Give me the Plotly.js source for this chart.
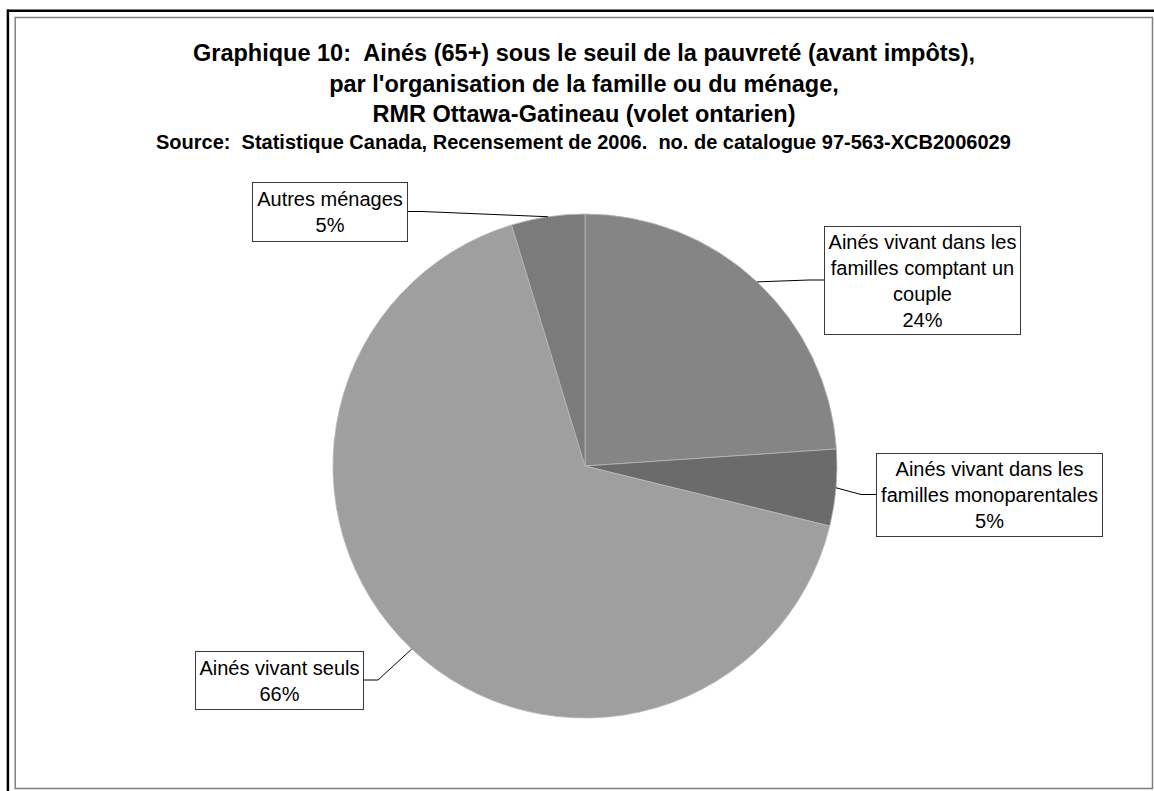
<!DOCTYPE html>
<html>
<head>
<meta charset="utf-8">
<script src="https://cdn.plot.ly/plotly-3.0.1.min.js"></script>
<style>html,body{margin:0;padding:0;background:#fff;}#chart{width:1154px;height:791px;}</style>
</head>
<body>
<div id="chart"></div>
<script>
// ---- data ----
const categories = [
  "Ainés vivant dans les familles comptant un couple",
  "Ainés vivant dans les familles monoparentales",
  "Ainés vivant seuls",
  "Autres ménages"
];
const labelLines = [
  "Ainés vivant dans les<br>familles comptant un<br>couple",
  "Ainés vivant dans les<br>familles monoparentales",
  "Ainés vivant seuls",
  "Autres ménages"
];
const shares = [23.9, 4.9, 66.4, 4.7];
const titleLines = [
  "Graphique 10:  Ainés (65+) sous le seuil de la pauvreté (avant impôts),",
  "par l'organisation de la famille ou du ménage,",
  "RMR Ottawa-Gatineau (volet ontarien)"
];
const sourceText = "Source:  Statistique Canada, Recensement de 2006.  no. de catalogue 97-563-XCB2006029";

// ---- layout config ----
const W = 1154, H = 791;
const FONT = "Liberation Sans, Arial, sans-serif";
const colors = ["#858585", "#6b6b6b", "#9f9f9f", "#7b7b7b"];
const cx = 585, cy = 466, R = 252;
// label boxes: centre x, centre y, width, height (pixels)
const boxes = [
  {x: 922, y: 280, w: 196, h: 108},
  {x: 989, y: 494.5, w: 226, h: 83},
  {x: 279, y: 680, w: 168, h: 58},
  {x: 329.5, y: 211.5, w: 155, h: 59}
];
const px = v => v / W;
const py = v => 1 - v / H;

const total = shares.reduce((a, b) => a + b, 0);
const pct = shares.map(v => Math.round(v / total * 100));

// slice mid angles (clockwise from 12 o'clock)
let acc = 0;
const mids = shares.map(v => { const a = (acc + v / 2) / total * 2 * Math.PI; acc += v; return a; });

const annotations = [];
const shapes = [];

labelLines.forEach((t, i) => {
  const b = boxes[i];
  const pad = 3;
  annotations.push({
    text: t + "<br>" + pct[i] + "%",
    xref: "paper", yref: "paper",
    x: px(b.x), y: py(b.y), xanchor: "center", yanchor: "middle",
    showarrow: false,
    width: b.w - 2 * pad - 1, height: b.h - 2 * pad - 1,
    align: "center", valign: "middle",
    bgcolor: "#ffffff", bordercolor: "#3a3a3a", borderwidth: 1, borderpad: pad,
    font: {family: FONT, size: 20, color: "#000000"}
  });
  // leader line from slice edge to box
  const ax = cx + R * Math.sin(mids[i]);
  const ay = cy - R * Math.cos(mids[i]);
  const right = ax > b.x;
  const ex = right ? b.x + b.w / 2 : b.x - b.w / 2;
  const kx = right ? ex + 15 : ex - 15;
  shapes.push({
    type: "path", xref: "paper", yref: "paper",
    path: `M ${px(ax)},${py(ay)} L ${px(kx)},${py(b.y)} L ${px(ex)},${py(b.y)}`,
    line: {color: "#000000", width: 1}
  });
});

annotations.push({
  text: "<b>" + sourceText + "</b>",
  xref: "paper", yref: "paper", x: px(584), y: py(142),
  xanchor: "center", yanchor: "middle", showarrow: false,
  font: {family: FONT, size: 20, color: "#000000"}
});

// frame
shapes.push({type: "line", xref: "paper", yref: "paper", x0: px(7), x1: px(1154), y0: py(10.7), y1: py(10.7), line: {color: "#000", width: 2.5}});
shapes.push({type: "line", xref: "paper", yref: "paper", x0: px(7.9), x1: px(7.9), y0: py(9.5), y1: py(791), line: {color: "#000", width: 2.5}});
shapes.push({type: "rect", xref: "paper", yref: "paper", x0: px(15.2), x1: px(1152.5), y0: py(17.5), y1: py(788.5), line: {color: "#7f7f7f", width: 1.5}});

const trace = {
  type: "pie",
  labels: categories,
  values: shares,
  sort: false,
  direction: "clockwise",
  rotation: 0,
  textinfo: "none",
  hoverinfo: "label+percent",
  marker: {colors: colors, line: {color: "#b8b8b8", width: 0.8}},
  domain: {x: [px(cx - R), px(cx + R)], y: [py(cy + R), py(cy - R)]},
  showlegend: false
};

const layout = {
  width: W, height: H,
  margin: {l: 0, r: 0, t: 0, b: 0},
  paper_bgcolor: "#ffffff",
  showlegend: false,
  title: {
    text: titleLines.map(s => "<b>" + s + "</b>").join("<br>"),
    x: px(584), xanchor: "center", xref: "paper",
    y: py(61), yanchor: "middle", yref: "container",
    font: {family: FONT, size: 23.5, color: "#000000"}
  },
  annotations: annotations,
  shapes: shapes
};

Plotly.newPlot("chart", [trace], layout, {displayModeBar: false, staticPlot: true});
</script>
</body>
</html>
